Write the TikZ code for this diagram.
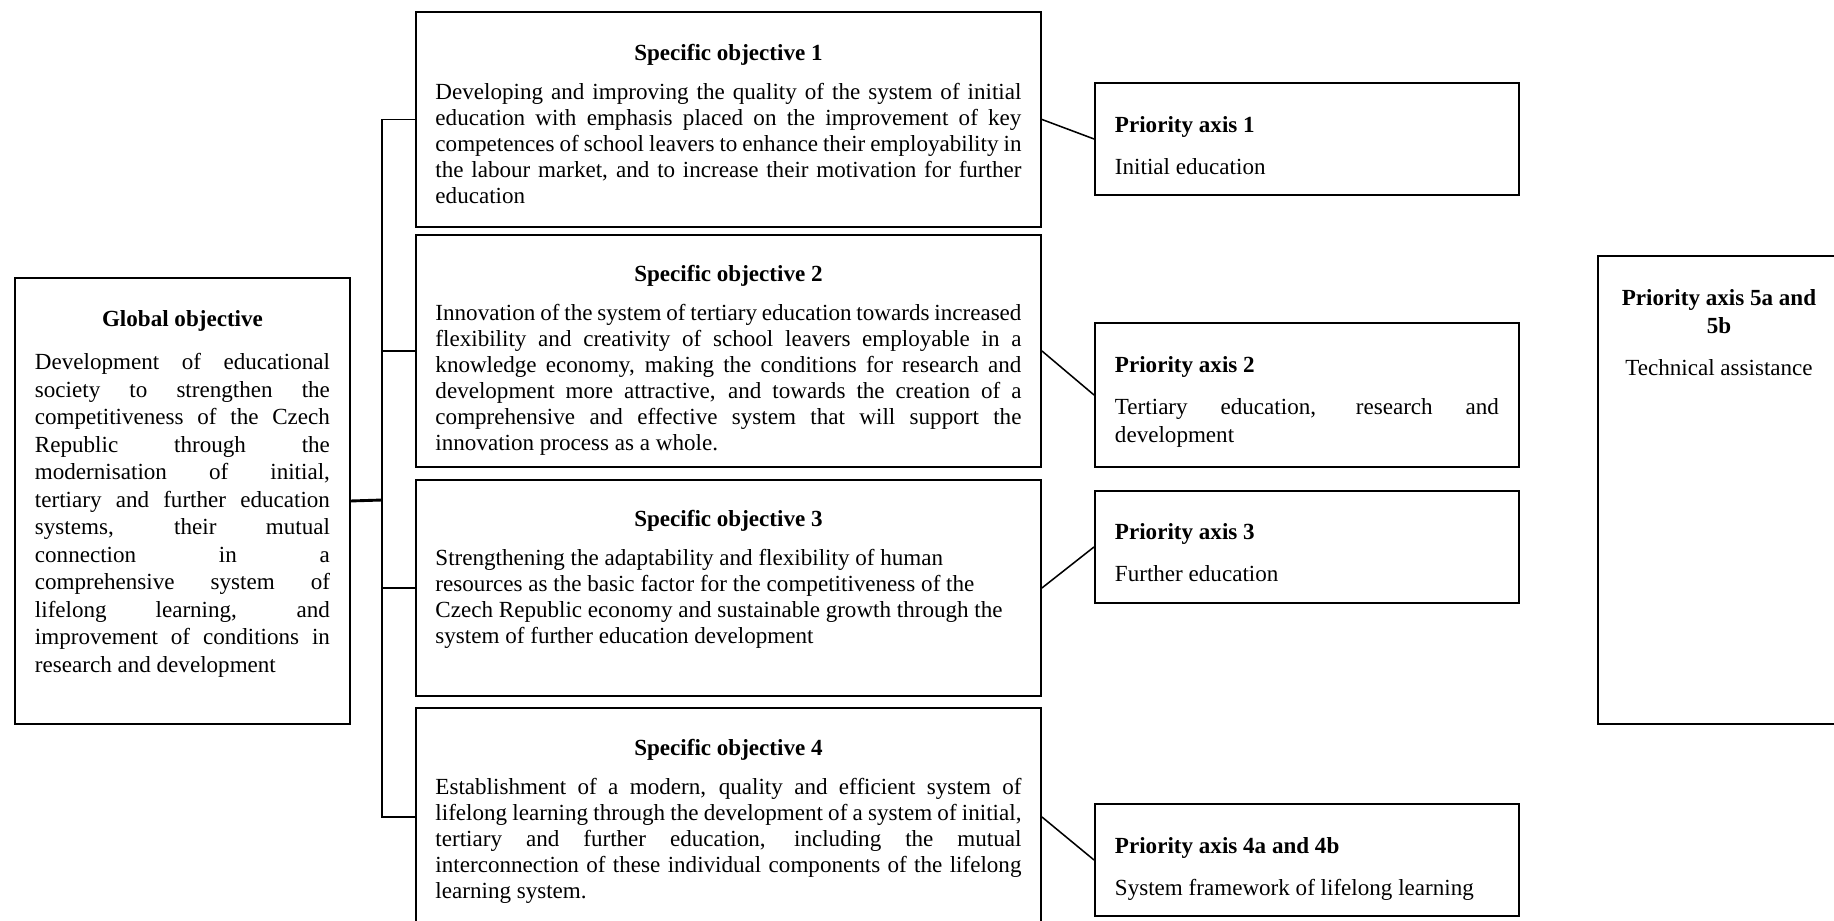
\documentclass[tikz,border=0pt]{standalone}
\usepackage{fontspec}
\setmainfont{Liberation Serif}
\usetikzlibrary{calc}
\newlength{\px}
\setlength{\px}{0.52pt}
\hyphenpenalty=10000
\exhyphenpenalty=10000
\tolerance=10000
\newcommand{\boxhead}[2][6.5pt]{{\centering\bfseries #2\par}\vspace{#1}}
\newcommand{\axishead}[1]{{\bfseries #1\par}\vspace{7pt}}

\begin{document}
\begin{tikzpicture}[x=0.52pt, y=-0.52pt,
  box/.style={draw, line width=1pt, anchor=north west, inner ysep=0pt,
    align=justify, text height=49\px},
  objbox/.style={box, text width=586\px, inner xsep=19.5\px,
    font=\fontsize{12}{13.5}\selectfont},
  axisbox/.style={box, text width=384\px, inner xsep=20\px,
    font=\fontsize{12}{14.5}\selectfont},
  link/.style={line width=0.8pt},
  trunk/.style={line width=1.5pt}]
  \useasboundingbox (0,0) rectangle (1834,920);

  % global objective
  \node[box, text width=295\px, inner xsep=20\px, text depth=397\px,
    font=\fontsize{12}{14.3}\selectfont] (glob) at (14,277)
    {\boxhead[8pt]{Global objective}Development of educational\linebreak society to strengthen the\linebreak competitiveness of the Czech\linebreak Republic through the\linebreak modernisation of initial,\linebreak tertiary and further education\linebreak systems, their mutual\linebreak connection in a\linebreak comprehensive system of\linebreak lifelong learning, and\linebreak improvement of conditions in\linebreak research and development};

  % specific objectives
  \node[objbox, text depth=166\px] (so1) at (415,11)
    {\boxhead{Specific objective 1}Developing and improving the quality of the system of initial\linebreak education with emphasis placed on the improvement of key\linebreak competences of school leavers to enhance their employability in\linebreak the labour market, and to increase their motivation for further\linebreak education};
  \node[objbox, text depth=185\px, text height=47\px] (so2) at (415,234)
    {\boxhead{Specific objective 2}Innovation of the system of tertiary education towards increased\linebreak flexibility and creativity of school leavers employable in a\linebreak knowledge economy, making the conditions for research and\linebreak development more attractive, and towards the creation of a\linebreak comprehensive and effective system that will support the\linebreak innovation process as a whole.};
  \node[objbox, text depth=169\px, text height=47\px] (so3) at (415,479)
    {\boxhead{Specific objective 3}{\raggedright Strengthening the adaptability and flexibility of human resources as the basic factor for the competitiveness of the Czech Republic economy and sustainable growth through the system of further education development\par}};
  \node[objbox, text depth=170\px, text height=48\px] (so4) at (415,707)
    {\boxhead{Specific objective 4}Establishment of a modern, quality and efficient system of\linebreak lifelong learning through the development of a system of initial,\linebreak tertiary and further education, including the mutual\linebreak interconnection of these individual components of the lifelong\linebreak learning system.};

  % priority axes
  \node[axisbox, text depth=62\px, text height=50\px] (pa1) at (1094,82)
    {\axishead{Priority axis 1}Initial education};
  \node[axisbox, text depth=94\px, text height=50\px] (pa2) at (1094,322)
    {\axishead{Priority axis 2}Tertiary education, research and development};
  \node[axisbox, text depth=63\px] (pa3) at (1094,490)
    {\axishead{Priority axis 3}Further education};
  \node[axisbox, text depth=62\px, text height=50\px] (pa4) at (1094,803)
    {\axishead{Priority axis 4a and 4b}System framework of lifelong learning};
  \node[axisbox, text width=210\px, inner xsep=16\px, text depth=418\px,
    text height=50\px] (pa5) at (1597,255)
    {\boxhead[7pt]{Priority axis 5a and 5b}{\centering Technical assistance\par}};

  % tree from the global objective
  \coordinate (bus) at (382,500);
  \draw[link] (so1.west) -- (so1.west -| bus) -- (so4.west -| bus) -- (so4.west);
  \draw[link] (so2.west) -- (so2.west -| bus);
  \draw[link] (so3.west) -- (so3.west -| bus);
  \draw[trunk] (so2.west -| bus) -- (so3.west -| bus);
  \draw[trunk] (glob.east) -- (bus);

  \draw[link] (so1.east) -- (pa1.west);
  \draw[link] (so2.east) -- (pa2.west);
  \draw[link] (so3.east) -- (pa3.west);
  \draw[link] (so4.east) -- (pa4.west);
\end{tikzpicture}
\end{document}
